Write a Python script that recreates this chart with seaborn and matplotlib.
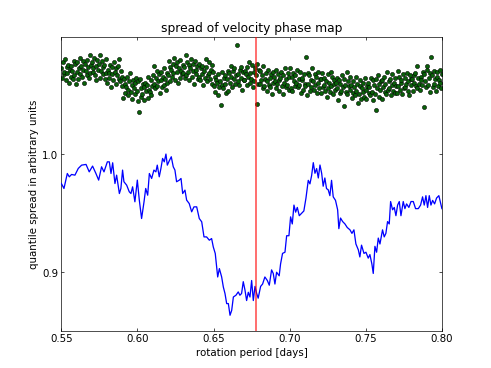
import matplotlib
matplotlib.use("Agg")

import matplotlib.pyplot as plt
import numpy as np
import seaborn as sns

# quantile spread curve
period = [
    0.5500, 0.5517, 0.5539, 0.5552, 0.5567, 0.5589, 0.5611, 0.5633, 0.5662, 0.5683,
    0.5705, 0.5727, 0.5745, 0.5764, 0.5780, 0.5802, 0.5815, 0.5826, 0.5837, 0.5852,
    0.5863, 0.5881, 0.5891, 0.5902, 0.5911, 0.5929, 0.5946, 0.5957, 0.5968, 0.5983,
    0.5999, 0.6012, 0.6027, 0.6043, 0.6054, 0.6067, 0.6078, 0.6093, 0.6108, 0.6121,
    0.6130, 0.6143, 0.6154, 0.6165, 0.6176, 0.6187, 0.6196, 0.6209, 0.6222, 0.6235,
    0.6246, 0.6257, 0.6275, 0.6286, 0.6297, 0.6312, 0.6323, 0.6340, 0.6356, 0.6371,
    0.6389, 0.6406, 0.6422, 0.6437, 0.6454, 0.6472, 0.6487, 0.6498, 0.6511, 0.6527,
    0.6538, 0.6553, 0.6564, 0.6575, 0.6586, 0.6597, 0.6608, 0.6619, 0.6630, 0.6647,
    0.6662, 0.6673, 0.6684, 0.6695, 0.6706, 0.6717, 0.6728, 0.6739, 0.6750, 0.6761,
    0.6772, 0.6783, 0.6793, 0.6809, 0.6822, 0.6837, 0.6853, 0.6866, 0.6881, 0.6892,
    0.6903, 0.6914, 0.6931, 0.6940, 0.6953, 0.6969, 0.6980, 0.6995, 0.7006, 0.7017,
    0.7028, 0.7039, 0.7050, 0.7063, 0.7078, 0.7093, 0.7107, 0.7122, 0.7133, 0.7144,
    0.7155, 0.7166, 0.7177, 0.7188, 0.7199, 0.7210, 0.7220, 0.7231, 0.7242, 0.7253,
    0.7264, 0.7275, 0.7286, 0.7301, 0.7315, 0.7323, 0.7334, 0.7348, 0.7363, 0.7378,
    0.7396, 0.7409, 0.7422, 0.7435, 0.7451, 0.7461, 0.7472, 0.7488, 0.7501, 0.7516,
    0.7527, 0.7540, 0.7549, 0.7560, 0.7571, 0.7582, 0.7593, 0.7610, 0.7621, 0.7632,
    0.7643, 0.7654, 0.7663, 0.7676, 0.7687, 0.7698, 0.7709, 0.7720, 0.7731, 0.7746,
    0.7757, 0.7768, 0.7783, 0.7797, 0.7812, 0.7827, 0.7845, 0.7860, 0.7873, 0.7884,
    0.7895, 0.7906, 0.7917, 0.7928, 0.7939, 0.7952, 0.7965, 0.7980, 0.8000,
]
spread = [
    0.9753, 0.9711, 0.9838, 0.9810, 0.9830, 0.9824, 0.9881, 0.9909, 0.9915, 0.9852,
    0.9901, 0.9838, 0.9782, 0.9895, 0.9852, 0.9937, 0.9937, 0.9838, 0.9929, 0.9753,
    0.9824, 0.9668, 0.9711, 0.9867, 0.9768, 0.9739, 0.9683, 0.9668, 0.9725, 0.9598,
    0.9782, 0.9612, 0.9456, 0.9598, 0.9711, 0.9654, 0.9838, 0.9796, 0.9867, 0.9852,
    0.9909, 0.9810, 0.9881, 0.9966, 0.9937, 1.0003, 0.9909, 0.9946, 0.9980, 0.9895,
    0.9867, 0.9768, 0.9782, 0.9796, 0.9668, 0.9697, 0.9612, 0.9583, 0.9513, 0.9555,
    0.9555, 0.9456, 0.9428, 0.9300, 0.9300, 0.9272, 0.9286, 0.9215, 0.9159, 0.8960,
    0.9031, 0.8960, 0.8875, 0.8819, 0.8734, 0.8734, 0.8635, 0.8677, 0.8790, 0.8805,
    0.8833, 0.8805, 0.8820, 0.8920, 0.8850, 0.8760, 0.8830, 0.8790, 0.8930, 0.8760,
    0.8880, 0.8820, 0.8780, 0.8880, 0.8900, 0.8960, 0.8930, 0.8890, 0.9020, 0.8990,
    0.8900, 0.9000, 0.8970, 0.9070, 0.9160, 0.9170, 0.9310, 0.9310, 0.9470, 0.9410,
    0.9570, 0.9510, 0.9550, 0.9480, 0.9500, 0.9520, 0.9630, 0.9780, 0.9750, 0.9820,
    0.9930, 0.9840, 0.9880, 0.9800, 0.9910, 0.9840, 0.9730, 0.9800, 0.9710, 0.9700,
    0.9650, 0.9780, 0.9640, 0.9610, 0.9530, 0.9370, 0.9460, 0.9430, 0.9410, 0.9380,
    0.9360, 0.9330, 0.9360, 0.9240, 0.9190, 0.9130, 0.9230, 0.9160, 0.9170, 0.9120,
    0.9150, 0.9070, 0.8990, 0.9220, 0.9170, 0.9290, 0.9240, 0.9360, 0.9300, 0.9330,
    0.9430, 0.9410, 0.9600, 0.9530, 0.9550, 0.9480, 0.9570, 0.9600, 0.9480, 0.9600,
    0.9540, 0.9580, 0.9550, 0.9600, 0.9600, 0.9540, 0.9540, 0.9570, 0.9640, 0.9570,
    0.9650, 0.9550, 0.9650, 0.9570, 0.9610, 0.9580, 0.9630, 0.9650, 0.9540,
]

# velocity phase map points, one per grid period
phase_vals = [
    1.073, 1.065, 1.078, 1.068, 1.070, 1.081, 1.063, 1.074, 1.069, 1.076, 1.061, 1.072, 1.075, 1.066, 1.071, 1.064, 1.079, 1.067, 1.077, 1.060,
    1.070, 1.078, 1.064, 1.073, 1.082, 1.068, 1.075, 1.066, 1.079, 1.072, 1.061, 1.077, 1.071, 1.080, 1.067, 1.074, 1.065, 1.084, 1.069, 1.076,
    1.078, 1.070, 1.073, 1.082, 1.067, 1.075, 1.063, 1.080, 1.072, 1.077, 1.065, 1.084, 1.071, 1.079, 1.068, 1.074, 1.076, 1.064, 1.081, 1.069,
    1.061, 1.072, 1.069, 1.065, 1.076, 1.057, 1.074, 1.068, 1.063, 1.078, 1.070, 1.060, 1.073, 1.067, 1.075, 1.064, 1.081, 1.062, 1.071, 1.066,
    1.058, 1.048, 1.064, 1.060, 1.052, 1.057, 1.066, 1.055, 1.050, 1.062, 1.069, 1.053, 1.059, 1.047, 1.063, 1.056, 1.061, 1.051, 1.065, 1.054,
    1.045, 1.062, 1.036, 1.064, 1.049, 1.056, 1.051, 1.060, 1.057, 1.046, 1.061, 1.054, 1.059, 1.048, 1.066, 1.055, 1.053, 1.063, 1.050, 1.058,
    1.067, 1.060, 1.075, 1.056, 1.065, 1.058, 1.071, 1.062, 1.068, 1.052, 1.063, 1.070, 1.057, 1.066, 1.059, 1.073, 1.064, 1.055, 1.069, 1.061,
    1.067, 1.079, 1.062, 1.074, 1.072, 1.066, 1.077, 1.069, 1.082, 1.063, 1.075, 1.070, 1.078, 1.061, 1.073, 1.065, 1.080, 1.071, 1.068, 1.076,
    1.069, 1.074, 1.065, 1.084, 1.067, 1.078, 1.070, 1.076, 1.063, 1.073, 1.081, 1.066, 1.071, 1.077, 1.060, 1.079, 1.068, 1.072, 1.075, 1.064,
    1.066, 1.077, 1.063, 1.073, 1.068, 1.075, 1.059, 1.071, 1.065, 1.081, 1.074, 1.062, 1.067, 1.078, 1.069, 1.064, 1.072, 1.076, 1.060, 1.070,
    1.058, 1.066, 1.053, 1.063, 1.061, 1.050, 1.068, 1.057, 1.062, 1.042, 1.070, 1.059, 1.056, 1.065, 1.060, 1.067, 1.052, 1.064, 1.054, 1.071,
    1.069, 1.061, 1.075, 1.066, 1.057, 1.071, 1.064, 1.073, 1.060, 1.067, 1.093, 1.062, 1.068, 1.059, 1.072, 1.065, 1.074, 1.055, 1.070, 1.063,
    1.063, 1.071, 1.068, 1.059, 1.074, 1.066, 1.078, 1.061, 1.069, 1.064, 1.076, 1.057, 1.070, 1.062, 1.073, 1.067, 1.043, 1.077, 1.060, 1.072,
    1.071, 1.060, 1.063, 1.067, 1.056, 1.075, 1.058, 1.064, 1.069, 1.054, 1.062, 1.072, 1.059, 1.065, 1.057, 1.068, 1.051, 1.070, 1.061, 1.066,
    1.062, 1.072, 1.056, 1.060, 1.068, 1.063, 1.054, 1.065, 1.070, 1.058, 1.051, 1.067, 1.061, 1.073, 1.057, 1.064, 1.059, 1.069, 1.055, 1.066,
    1.073, 1.056, 1.066, 1.054, 1.069, 1.062, 1.067, 1.058, 1.061, 1.072, 1.057, 1.064, 1.059, 1.070, 1.052, 1.063, 1.065, 1.055, 1.068, 1.060,
    1.058, 1.083, 1.050, 1.069, 1.060, 1.067, 1.054, 1.063, 1.057, 1.073, 1.062, 1.055, 1.068, 1.059, 1.066, 1.052, 1.061, 1.070, 1.056, 1.064,
    1.064, 1.052, 1.069, 1.057, 1.059, 1.065, 1.054, 1.062, 1.049, 1.068, 1.056, 1.061, 1.053, 1.070, 1.058, 1.066, 1.051, 1.060, 1.063, 1.055,
    1.061, 1.056, 1.065, 1.046, 1.063, 1.052, 1.060, 1.054, 1.067, 1.057, 1.041, 1.064, 1.059, 1.053, 1.070, 1.051, 1.062, 1.058, 1.055, 1.066,
    1.059, 1.048, 1.062, 1.052, 1.057, 1.050, 1.066, 1.054, 1.060, 1.044, 1.051, 1.063, 1.058, 1.047, 1.056, 1.061, 1.053, 1.049, 1.065, 1.055,
    1.047, 1.058, 1.061, 1.052, 1.057, 1.050, 1.065, 1.053, 1.063, 1.046, 1.059, 1.051, 1.064, 1.038, 1.056, 1.067, 1.049, 1.060, 1.055, 1.062,
    1.047, 1.063, 1.057, 1.066, 1.053, 1.060, 1.051, 1.070, 1.055, 1.062, 1.056, 1.064, 1.050, 1.059, 1.068, 1.054, 1.061, 1.052, 1.065, 1.058,
    1.052, 1.071, 1.058, 1.066, 1.055, 1.061, 1.063, 1.051, 1.068, 1.056, 1.065, 1.057, 1.060, 1.069, 1.054, 1.062, 1.050, 1.067, 1.059, 1.064,
    1.064, 1.054, 1.067, 1.061, 1.069, 1.058, 1.075, 1.056, 1.065, 1.060, 1.055, 1.066, 1.063, 1.059, 1.070, 1.040, 1.068, 1.062, 1.057, 1.072,
    1.075, 1.059, 1.065, 1.053, 1.069, 1.083, 1.067, 1.057, 1.071, 1.060, 1.064, 1.054, 1.070, 1.066, 1.058, 1.063, 1.072, 1.061, 1.056, 1.068,
]
phase_period = np.linspace(0.55, 0.80, len(phase_vals))

best_period = 0.678

plt.rcParams.update({
    "font.size": 12,
    "xtick.direction": "in",
    "ytick.direction": "in",
    "xtick.top": True,
    "ytick.right": True,
    "xtick.major.size": 4,
    "ytick.major.size": 4,
})

fig, ax = plt.subplots(figsize=(8, 6), dpi=61.375)
fig.subplots_adjust(left=0.125, right=0.9, bottom=0.1, top=0.9)

sns.scatterplot(x=phase_period, y=phase_vals, ax=ax, color="#0a600a",
                edgecolor="black", linewidth=0.6, s=24, zorder=2)
sns.lineplot(x=period, y=spread, ax=ax, color="blue", linewidth=1.5,
             sort=False, estimator=None, zorder=3)
ax.axvline(best_period, color="red", alpha=0.65, linewidth=2.0, zorder=4)

ax.set_xlim(0.55, 0.80)
ax.set_ylim(0.85, 1.10)
ax.set_xticks([0.55, 0.60, 0.65, 0.70, 0.75, 0.80])
ax.set_xticklabels(["0.55", "0.60", "0.65", "0.70", "0.75", "0.80"])
ax.set_yticks([0.9, 1.0])
ax.set_yticklabels(["0.9", "1.0"])
ax.set_xlabel("rotation period [days]")
ax.set_ylabel("quantile spread in arbitrary units")
ax.set_title("spread of velocity phase map")

plt.savefig("out.png")
plt.close()
